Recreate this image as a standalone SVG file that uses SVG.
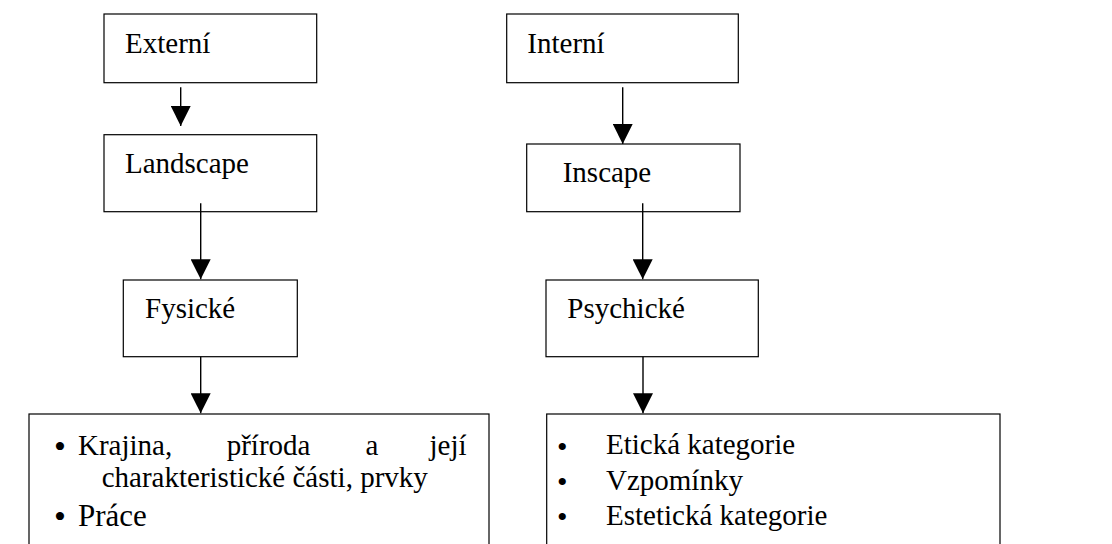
<svg xmlns="http://www.w3.org/2000/svg" width="1112" height="544" viewBox="0 0 1112 544">
  <style>
    .box { fill: #ffffff; stroke: #000000; stroke-width: 1.2; }
    .t { font-family: "Liberation Serif", "Times New Roman", Times, serif; font-size: 29px; fill: #000000; }
    .big { font-size: 31px; }
    .bul { font-family: "Liberation Serif", "Times New Roman", Times, serif; font-size: 34px; fill: #000000; }
    .bul2 { font-family: "Liberation Serif", "Times New Roman", Times, serif; font-size: 30px; fill: #000000; }
    .conn { stroke: #000000; stroke-width: 1.4; fill: none; marker-end: url(#arrow); }
  </style>
  <defs>
    <marker id="arrow" markerUnits="userSpaceOnUse" viewBox="0 0 20 20" refX="20" refY="10" markerWidth="20" markerHeight="20" orient="auto">
      <path d="M0,0 L20,10 L0,20 Z" fill="#000000"/>
    </marker>
  </defs>
  <rect width="1112" height="544" fill="#ffffff"/>

  <g id="externi">
    <rect class="box" x="104" y="14" width="212.7" height="68.7"/>
    <text class="t" x="125" y="52.7">Externí</text>
  </g>
  <g id="landscape">
    <rect class="box" x="104" y="134.7" width="212.7" height="77"/>
    <text class="t" x="125" y="172.7">Landscape</text>
  </g>
  <g id="fysicke">
    <rect class="box" x="123.3" y="280" width="174" height="76.7"/>
    <text class="t" x="145" y="317.7">Fysické</text>
  </g>
  <g id="fysicke-list">
    <rect class="box" x="29" y="414" width="460" height="140"/>
    <text class="bul" x="54" y="457.5">•</text>
    <text class="t" y="455"><tspan x="78">Krajina,</tspan><tspan x="226.7">příroda</tspan><tspan x="365.5">a</tspan><tspan x="429.5">její</tspan></text>
    <text class="t" x="101.7" y="486.7">charakteristické části, prvky</text>
    <text class="bul" x="54" y="528.2">•</text>
    <text class="t big" x="78" y="525.7">Práce</text>
  </g>

  <g id="interni">
    <rect class="box" x="506.7" y="14" width="231.6" height="68.7"/>
    <text class="t" x="527.3" y="52.7">Interní</text>
  </g>
  <g id="inscape">
    <rect class="box" x="526.7" y="144" width="213.3" height="67.7"/>
    <text class="t" x="562.7" y="181.7">Inscape</text>
  </g>
  <g id="psychicke">
    <rect class="box" x="546" y="280" width="212.3" height="76.7"/>
    <text class="t" x="567.3" y="317.7">Psychické</text>
  </g>
  <g id="psychicke-list">
    <rect class="box" x="546.7" y="414" width="453.3" height="140"/>
    <text class="bul2" x="557" y="456.7">•</text>
    <text class="t" x="606" y="454.3">Etická kategorie</text>
    <text class="bul2" x="557" y="492.3">•</text>
    <text class="t" x="606" y="490">Vzpomínky</text>
    <text class="bul2" x="557" y="527.3">•</text>
    <text class="t" x="606" y="525.3">Estetická kategorie</text>
  </g>

  <g id="connectors">
    <line class="conn" x1="180.7" y1="87.3" x2="180.7" y2="126"/>
    <line class="conn" x1="200.7" y1="203.3" x2="200.7" y2="279.3"/>
    <line class="conn" x1="200.7" y1="356.7" x2="200.7" y2="413.3"/>
    <line class="conn" x1="622.7" y1="87.3" x2="622.7" y2="144"/>
    <line class="conn" x1="642.7" y1="203.3" x2="642.7" y2="279.3"/>
    <line class="conn" x1="643" y1="356.7" x2="643" y2="413.3"/>
  </g>
</svg>
